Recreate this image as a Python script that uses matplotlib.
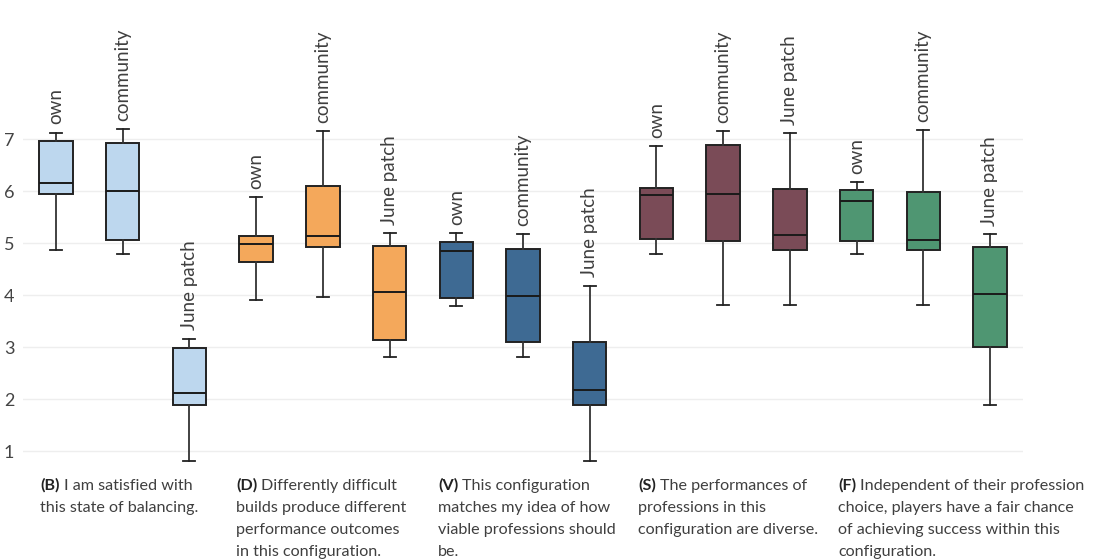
import matplotlib
matplotlib.use("Agg")
import matplotlib.pyplot as plt

# ---- data ----
conditions = ["own", "community", "June patch"]
group_codes = ["B", "D", "V", "S", "F"]
group_texts = [
    ["I am satisfied with", "this state of balancing."],
    ["Differently difficult", "builds produce different", "performance outcomes", "in this configuration."],
    ["This configuration", "matches my idea of how", "viable professions should", "be."],
    ["The performances of", "professions in this", "configuration are diverse."],
    ["Independent of their profession", "choice, players have a fair chance", "of achieving success within this", "configuration."],
]
group_colors = ["#bdd7ee", "#f4a85b", "#3e6a93", "#7a4b57", "#4f9672"]

# per group: [own, community, June patch]
whislo = [[4.86, 4.79, 0.80], [3.90, 3.96, 2.80], [3.80, 2.80, 0.80], [4.79, 3.82, 3.82], [4.80, 3.81, 1.88]]
q1     = [[5.95, 5.06, 1.88], [4.64, 4.93, 3.14], [3.95, 3.10, 1.88], [5.09, 5.05, 4.87], [5.04, 4.87, 3.01]]
med    = [[6.15, 6.00, 2.12], [4.98, 5.13, 4.06], [4.85, 3.98, 2.17], [5.92, 5.95, 5.16], [5.81, 5.07, 4.02]]
q3     = [[6.96, 6.92, 2.98], [5.14, 6.11, 4.95], [5.02, 4.89, 3.10], [6.06, 6.89, 6.04], [6.02, 5.99, 4.93]]
whishi = [[7.13, 7.19, 3.16], [5.88, 7.15, 5.19], [5.19, 5.18, 4.18], [6.87, 7.16, 7.12], [6.18, 7.17, 5.18]]
yticks = [1, 2, 3, 4, 5, 6, 7]

FONT = "Lato"
TXT = "#3f3f3f"
W, H = 1094, 560
fig = plt.figure(figsize=(W / 100, H / 100), dpi=100)
ax = fig.add_axes([22.7 / W, 1 - 466.6 / H, (1023.3 - 22.7) / W, (466.6 - 123.7) / H])

for g in range(len(group_codes)):
    stats = []
    positions = []
    for c in range(len(conditions)):
        stats.append(dict(whislo=whislo[g][c], q1=q1[g][c], med=med[g][c],
                          q3=q3[g][c], whishi=whishi[g][c], fliers=[]))
        positions.append(g * 3 + c)
    ax.bxp(stats, positions=positions, widths=0.5, patch_artist=True, showfliers=False,
           boxprops=dict(facecolor=group_colors[g], edgecolor="#222222", linewidth=1.4),
           medianprops=dict(color="#1a1a1a", linewidth=1.4),
           whiskerprops=dict(color="#333333", linewidth=1.3),
           capprops=dict(color="#222222", linewidth=1.3), capwidths=0.18)
    for c, p in enumerate(positions):
        ax.annotate(conditions[c], xy=(p, whishi[g][c]), xytext=(0, 6),
                    textcoords="offset points", rotation=90, ha="center", va="bottom",
                    fontsize=13.5, color=TXT, family=FONT, fontweight="normal",
                    annotation_clip=False)

ax.set_xlim(-0.5, 14.5)
ax.set_ylim(0.7, 7.3)
ax.set_yticks(yticks)
ax.set_yticklabels([str(v) for v in yticks], family=FONT, fontweight="normal",
                   fontsize=13, color="#444444")
ax.set_xticks([])
ax.tick_params(axis="y", length=0, pad=6)
for s in ax.spines.values():
    s.set_visible(False)
ax.grid(axis="y", color="#eeeeee", linewidth=1)
ax.set_axisbelow(True)

# captions
cap_x = [40, 236, 438, 638, 838]
first_y = 490
line_h = 22
fig.canvas.draw()
renderer = fig.canvas.get_renderer()
for g, code in enumerate(group_codes):
    x = cap_x[g]
    bt = fig.text(x / W, 1 - first_y / H, "(" + code + ")", family=FONT, fontweight="bold",
                  fontsize=11.6, color="#222222", va="baseline", ha="left")
    ext = bt.get_window_extent(renderer)
    fig.text((ext.x1 + 4) / W, 1 - first_y / H, group_texts[g][0], family=FONT,
             fontweight="normal", fontsize=11.6, color=TXT, va="baseline", ha="left")
    for i, line in enumerate(group_texts[g][1:], start=1):
        fig.text(x / W, 1 - (first_y + i * line_h) / H, line, family=FONT,
                 fontweight="normal", fontsize=11.6, color=TXT, va="baseline", ha="left")

fig.savefig("out.png", dpi=100)
